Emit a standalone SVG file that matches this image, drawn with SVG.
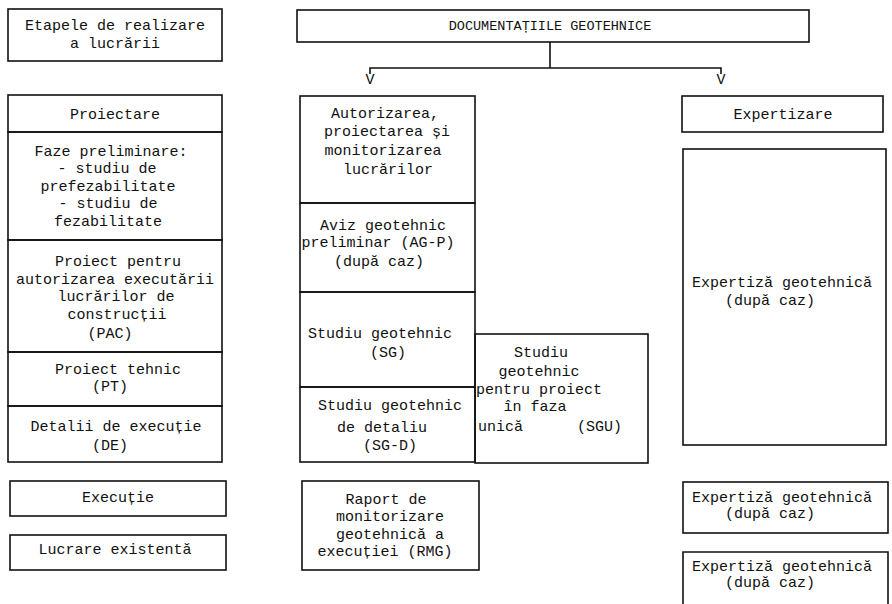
<svg xmlns="http://www.w3.org/2000/svg" width="892" height="604" viewBox="0 0 892 604">
<style>
.b{fill:none;stroke:#111;stroke-width:1.6}
.c{fill:none;stroke:#111;stroke-width:1.6}
text{font-family:"Liberation Mono","DejaVu Sans Mono",monospace;font-size:15px;fill:#111;text-anchor:middle}
.l{text-anchor:start}
.s{font-size:13.5px}
</style>
<rect width="892" height="604" fill="#fff"/>
<g id="etape"><rect class="b" x="8" y="9" width="214" height="52"/><text x="115" y="30">Etapele de realizare</text><text x="115" y="48">a lucrării</text></g>
<g id="documentatii"><rect class="b" x="297" y="10" width="512" height="32"/><text class="s" x="550" y="30">DOCUMENTAȚIILE GEOTEHNICE</text></g>
<g id="connectors">
<path class="c" d="M550 42V68M370 74V68H721V74"/>
<text x="370" y="84">V</text><text x="721" y="84">V</text>
</g>
<g id="proiectare"><rect class="b" x="8" y="95" width="214" height="37"/><text x="115" y="119">Proiectare</text></g>
<g id="faze"><rect class="b" x="8" y="132" width="214" height="108"/><text x="111" y="156">Faze preliminare:</text><text x="107" y="173">- studiu de</text><text x="108" y="191">prefezabilitate</text><text x="108" y="208">- studiu de</text><text x="108" y="226">fezabilitate</text></g>
<g id="pac"><rect class="b" x="8" y="240" width="214" height="112"/><text x="118" y="266">Proiect pentru</text><text x="115" y="284">autorizarea executării</text><text x="116" y="301">lucrărilor de</text><text x="117" y="319">construcții</text><text x="110" y="338">(PAC)</text></g>
<g id="pt"><rect class="b" x="8" y="352" width="214" height="54"/><text x="118" y="374">Proiect tehnic</text><text x="110" y="391">(PT)</text></g>
<g id="de"><rect class="b" x="8" y="406" width="214" height="56"/><text x="116" y="431">Detalii de execuție</text><text x="110" y="450">(DE)</text></g>
<g id="executie"><rect class="b" x="10" y="481" width="216" height="35"/><text x="118" y="502">Execuție</text></g>
<g id="existenta"><rect class="b" x="10" y="535" width="216" height="35"/><text x="115" y="554">Lucrare existentă</text></g>
<g id="autorizarea"><rect class="b" x="300" y="96" width="175" height="107"/><text x="385" y="118">Autorizarea,</text><text x="387" y="136">proiectarea și</text><text x="383" y="155">monitorizarea</text><text x="388" y="174">lucrărilor</text></g>
<g id="agp"><rect class="b" x="300" y="203" width="175" height="89"/><text x="383" y="230">Aviz geotehnic</text><text x="378" y="247">preliminar (AG-P)</text><text x="379" y="266">(după caz)</text></g>
<g id="sg"><rect class="b" x="300" y="292" width="175" height="95"/><text x="380" y="338">Studiu geotehnic</text><text x="388" y="357">(SG)</text></g>
<g id="sgd"><rect class="b" x="300" y="387" width="175" height="75"/><text x="390" y="410">Studiu geotehnic</text><text x="382" y="432">de detaliu</text><text x="390" y="450">(SG-D)</text></g>
<g id="sgu"><rect class="b" x="475" y="334" width="173" height="129"/><text x="541" y="357">Studiu</text><text x="539" y="376">geotehnic</text><text x="539" y="394">pentru proiect</text><text x="535" y="411">în faza</text><text class="l" x="478" y="431">unică</text><text class="l" x="577" y="431">(SGU)</text></g>
<g id="rmg"><rect class="b" x="302" y="481" width="177" height="89"/><text x="386" y="504">Raport de</text><text x="390" y="521">monitorizare</text><text x="390" y="539">geotehnică a</text><text x="385" y="556">execuției (RMG)</text></g>
<g id="expertizare"><rect class="b" x="682" y="96" width="201" height="36"/><text x="783" y="119">Expertizare</text></g>
<g id="expertiza1"><rect class="b" x="683" y="149" width="203" height="296"/><text x="782" y="287">Expertiză geotehnică</text><text x="770" y="305">(după caz)</text></g>
<g id="expertiza2"><rect class="b" x="683" y="482" width="205" height="51"/><text x="782" y="502">Expertiză geotehnică</text><text x="770" y="518">(după caz)</text></g>
<g id="expertiza3"><path class="b" d="M683 606V552H888V606"/><text x="782" y="571">Expertiză geotehnică</text><text x="770" y="587">(după caz)</text></g>
</svg>
